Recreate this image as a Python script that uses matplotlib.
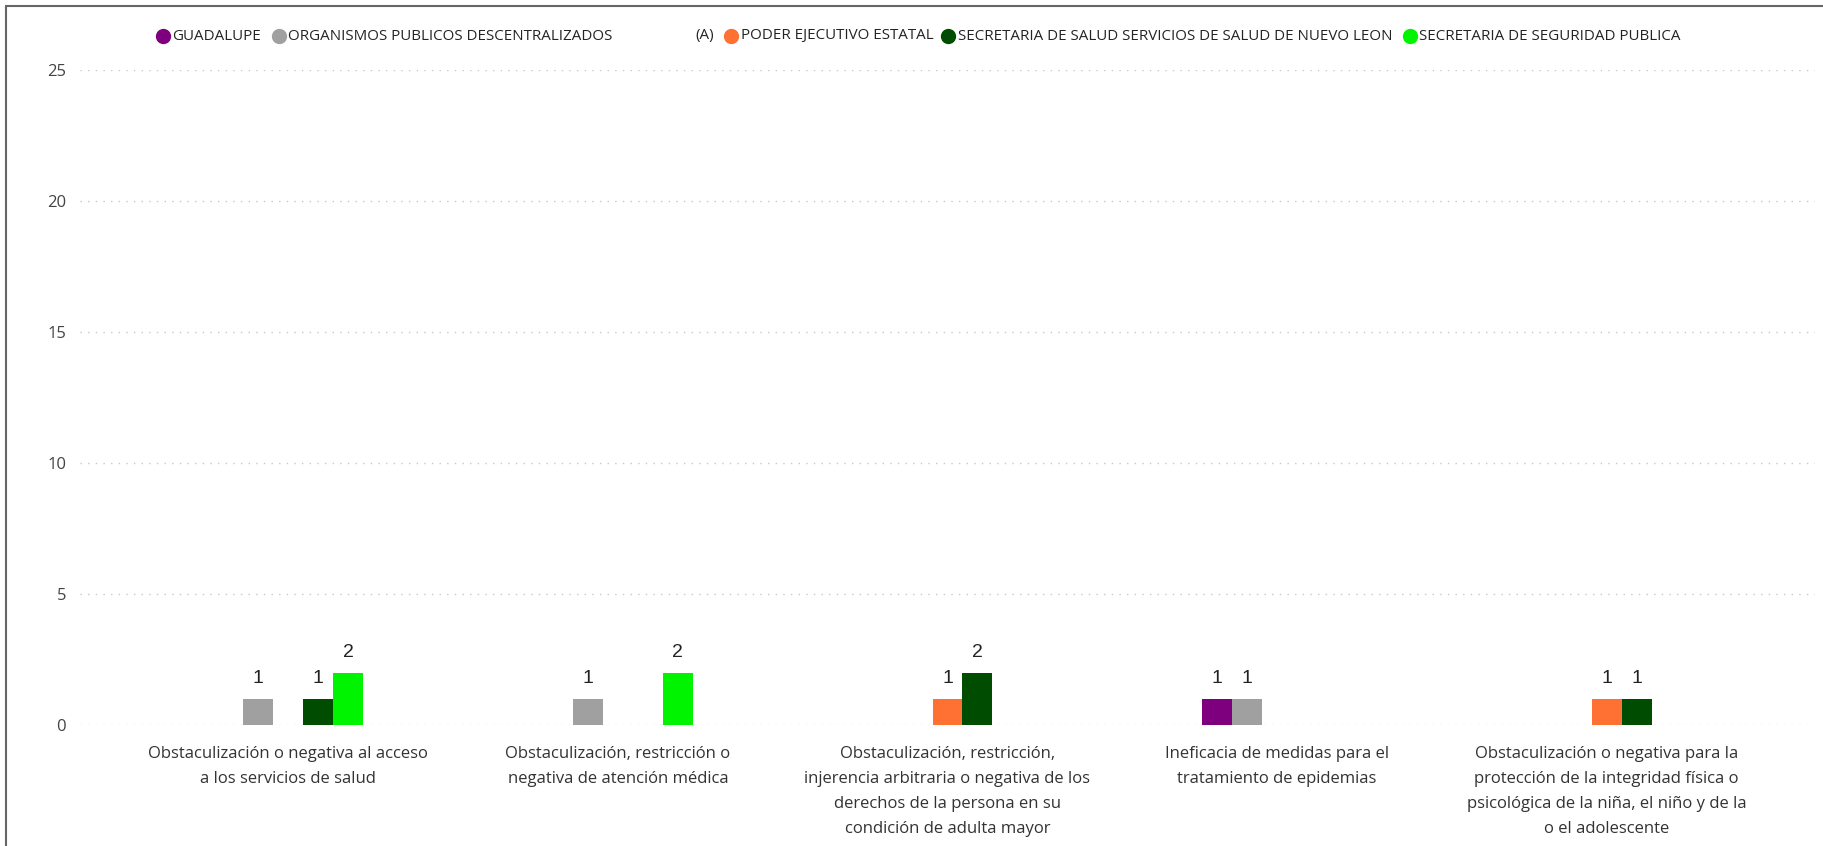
import matplotlib.pyplot as plt
from matplotlib.lines import Line2D
from matplotlib.patches import Rectangle
import numpy as np

# datos
categorias = [
    "Obstaculización o negativa al acceso\na los servicios de salud",
    "Obstaculización, restricción o\nnegativa de atención médica",
    "Obstaculización, restricción,\ninjerencia arbitraria o negativa de los\nderechos de la persona en su\ncondición de adulta mayor",
    "Ineficacia de medidas para el\ntratamiento de epidemias",
    "Obstaculización o negativa para la\nprotección de la integridad física o\npsicológica de la niña, el niño y de la\no el adolescente",
]
series = [
    "GUADALUPE",
    "ORGANISMOS PUBLICOS DESCENTRALIZADOS",
    "PODER EJECUTIVO ESTATAL",
    "SECRETARIA DE SALUD SERVICIOS DE SALUD DE NUEVO LEON",
    "SECRETARIA DE SEGURIDAD PUBLICA",
]
colores = ["#7F007F", "#A0A0A0", "#FF7033", "#004C00", "#00F400"]
guadalupe = [0, 0, 0, 1, 0]
organismos = [1, 1, 0, 1, 0]
poder_ejecutivo = [0, 0, 1, 0, 1]
secretaria_salud = [1, 0, 2, 0, 1]
seguridad_publica = [2, 2, 0, 0, 0]
valores = [guadalupe, organismos, poder_ejecutivo, secretaria_salud, seguridad_publica]
yticks = [0, 5, 10, 15, 20, 25]

W, H = 1824, 846
fig = plt.figure(figsize=(W / 100, H / 100), dpi=100)
ax = fig.add_axes([80 / W, 1 - 725 / H, (1815 - 80) / W, (725 - 70) / H])

x = np.arange(len(categorias))
ancho = 0.091
for k, (nombre, vals, col) in enumerate(zip(series, valores, colores)):
    pos = x + (k - 2) * ancho
    for xi, v in zip(pos, vals):
        if v == 0:
            continue
        ax.bar(xi, v, width=ancho, color=col, zorder=3)
        ax.annotate(str(v), (xi, v), xytext=(0, 8.5), textcoords="offset points",
                    ha="center", va="bottom", fontsize=14,
                    family="Liberation Sans", color="#222222")

ax.set_xlim(-0.632, 4.632)
ax.set_ylim(0, 25)
ax.set_yticks(yticks)
ax.yaxis.grid(True, color="#C8C8C8", linestyle=(0, (1, 4.5)), linewidth=1.0, zorder=0)
ax.set_axisbelow(True)
for s in ax.spines.values():
    s.set_visible(False)
ax.tick_params(axis="y", length=0, pad=10, labelsize=12, labelcolor="#444444")
ax.tick_params(axis="x", length=0, pad=15)
ax.set_xticks(x)
ax.set_xticklabels(categorias, fontsize=12, family="Open Sans", color="#333333",
                   linespacing=1.75, va="top")
for lab in ax.get_yticklabels():
    lab.set_family("Open Sans")

# leyenda a mano
ly = 1 - 36 / H
leyenda = [(163, 172, 0), (279, 288, 1), (731, 741, 2), (948, 958, 3), (1410, 1419, 4)]
for xm, xt, k in leyenda:
    fig.add_artist(Line2D([xm / W], [ly], marker="o", markersize=10, color=colores[k],
                          linestyle="none", transform=fig.transFigure))
    fig.text(xt / W, ly, series[k], fontsize=10.9, family="Open Sans",
             color="#252423", va="center", ha="left")
fig.text(695 / W, ly, "(A)", fontsize=10.9, family="Open Sans", color="#252423",
         va="center", ha="left")

# marco
fig.add_artist(Rectangle((6 / W, -0.05), 1.1, 1 - 6 / H + 0.05, fill=False,
                         edgecolor="#666666", linewidth=1.5, transform=fig.transFigure))

fig.savefig("out.png", dpi=100)
